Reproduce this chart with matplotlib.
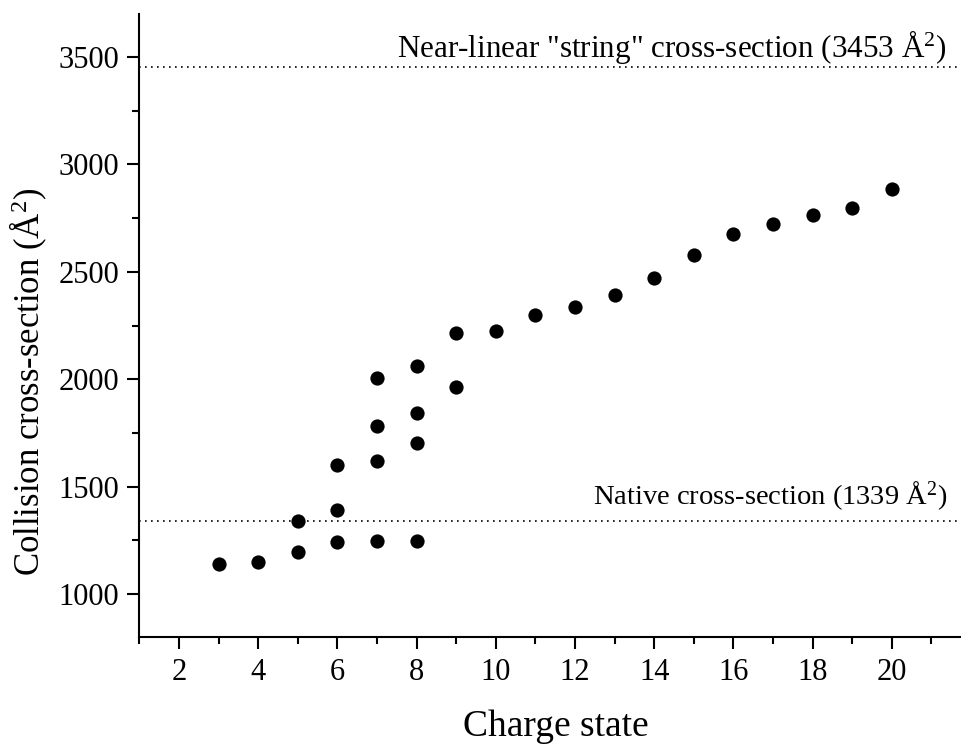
import matplotlib
matplotlib.use('Agg')
import matplotlib.pyplot as plt
from matplotlib.ticker import MultipleLocator
from matplotlib.transforms import blended_transform_factory, offset_copy

plt.rcParams['font.family'] = 'Liberation Serif'
plt.rcParams['mathtext.fontset'] = 'custom'
plt.rcParams['mathtext.rm'] = 'Liberation Serif'
plt.rcParams['mathtext.it'] = 'Liberation Serif:italic'

# charge state / collision cross-section (A^2)
charge = [3, 4, 5, 5, 6, 6, 6, 7, 7, 7, 7, 8, 8, 8, 8, 9, 9,
          10, 11, 12, 13, 14, 15, 16, 17, 18, 19, 20]
ccs = [1137, 1150, 1194, 1340, 1243, 1392, 1602, 1245, 1620, 1784, 2006,
       1247, 1701, 1844, 2060, 1962, 2213,
       2223, 2301, 2334, 2390, 2471, 2578, 2677, 2721, 2764, 2798, 2887]

ref_values = [3453, 1339]
ref_labels = ['Near-linear "string" cross-section (3453 Å$^2$)',
              'Native cross-section (1339 Å$^2$)']
ref_offsets = [7, 12.5]  # points above the line
ref_sizes = [22.4, 20.5]

fig = plt.figure(figsize=(9.62, 7.44), dpi=100)
ax = fig.add_axes([0.145, 0.144, 0.854, 0.837])

ax.scatter(charge, ccs, s=105, color='black', zorder=3, linewidths=0)

for val, lab, off, fs in zip(ref_values, ref_labels, ref_offsets, ref_sizes):
    ax.axhline(val, color='black', lw=1.2, linestyle=(0, (1, 2.6)))
    tr = offset_copy(blended_transform_factory(ax.transAxes, ax.transData),
                     fig=fig, y=off, units='points')
    ax.text(0.983, val, lab, transform=tr, ha='right', va='baseline', fontsize=fs)

ax.set_xlim(1, 21.75)
ax.set_ylim(800, 3700)
ax.xaxis.set_major_locator(MultipleLocator(2))
ax.xaxis.set_minor_locator(MultipleLocator(1))
ax.yaxis.set_major_locator(MultipleLocator(500))
ax.yaxis.set_minor_locator(MultipleLocator(250))

for side in ['top', 'right']:
    ax.spines[side].set_visible(False)
for side in ['left', 'bottom']:
    ax.spines[side].set_linewidth(1.5)

ax.tick_params(which='major', direction='out', length=8.5, width=1.5,
               labelsize=22, pad=6)
ax.tick_params(which='minor', direction='out', length=5, width=1.5)
ax.tick_params(axis='x', which='major', pad=7)

ax.set_xlabel('Charge state', fontsize=27)
ax.xaxis.set_label_coords(0.507, -0.117)
ax.set_ylabel('Collision cross-section (Å$^2$)', fontsize=25)
ax.yaxis.set_label_coords(-0.11, 0.41)

fig.savefig('out.png', dpi=100)
